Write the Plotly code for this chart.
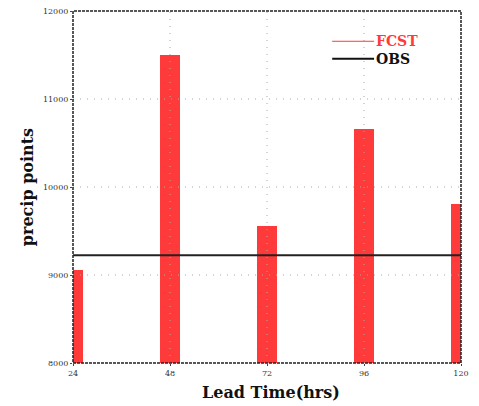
import plotly.graph_objects as go

# Lead times (hours) and counts of precip points
lead_hours = [24, 48, 72, 96, 120]
fcst_points = [9055, 11500, 9560, 10660, 9810]
obs_points = 9225

x_ticks = [24, 48, 72, 96, 120]
y_ticks = [8000, 9000, 10000, 11000, 12000]

FONT = "DejaVu Serif"
BAR_RED = "#ff3a3a"

fig = go.Figure()

fig.add_trace(go.Bar(
    x=lead_hours, y=fcst_points, width=5,
    marker=dict(color=BAR_RED, line=dict(width=0)),
    name="FCST", showlegend=False,
))

fig.add_trace(go.Scatter(
    x=[x_ticks[0], x_ticks[-1]], y=[obs_points, obs_points],
    mode="lines", line=dict(color="#222222", width=2),
    name="OBS", showlegend=False, cliponaxis=False,
))

shapes = []
# dotted grid drawn over the bars
grid_line = dict(color="#a8a8a8", width=1, dash="1px,6px")
for yv in y_ticks[1:-1]:
    shapes.append(dict(type="line", xref="paper", yref="y", x0=0, x1=1, y0=yv, y1=yv,
                       line=grid_line, layer="above"))
for xv in x_ticks[1:-1]:
    shapes.append(dict(type="line", xref="x", yref="paper", x0=xv, x1=xv, y0=0, y1=1,
                       line=grid_line, layer="above"))
# dashed frame
shapes.append(dict(type="rect", xref="paper", yref="paper", x0=0, x1=1, y0=0, y1=1,
                   line=dict(color="#222222", width=1.5, dash="3px,1px"), layer="above"))
# legend samples
shapes.append(dict(type="line", xref="paper", yref="paper", x0=0.668, x1=0.776, y0=0.914, y1=0.914,
                   line=dict(color="#ff3a3a", width=1)))
shapes.append(dict(type="line", xref="paper", yref="paper", x0=0.668, x1=0.776, y0=0.864, y1=0.864,
                   line=dict(color="#111111", width=2)))

annotations = [
    dict(text="<b>FCST</b>", xref="paper", yref="paper", x=0.776, y=0.914, xanchor="left",
         yanchor="middle", showarrow=False, font=dict(family=FONT, size=14, color="#ff3a3a")),
    dict(text="<b>OBS</b>", xref="paper", yref="paper", x=0.776, y=0.864, xanchor="left",
         yanchor="middle", showarrow=False, font=dict(family=FONT, size=14, color="#111111")),
    dict(text="<b>Lead Time(hrs)</b>", xref="paper", yref="paper", x=0.51, y=-0.083,
         xanchor="center", yanchor="middle", showarrow=False,
         font=dict(family=FONT, size=16, color="#111111")),
    dict(text="<b>precip points</b>", xref="paper", yref="paper", x=-0.118, y=0.5,
         xanchor="center", yanchor="middle", textangle=-90, showarrow=False,
         font=dict(family=FONT, size=16, color="#111111")),
]

fig.update_layout(
    width=479, height=406,
    margin=dict(l=73, r=18, t=7, b=43),
    paper_bgcolor="white", plot_bgcolor="white",
    shapes=shapes, annotations=annotations,
    bargap=0,
    xaxis=dict(range=[x_ticks[0], x_ticks[-1]], tickvals=x_ticks, ticktext=[str(v) for v in x_ticks],
               showgrid=False, zeroline=False, showline=False, ticks="outside", ticklen=2,
               tickcolor="#444", tickfont=dict(family=FONT, size=8, color="#333")),
    yaxis=dict(range=[y_ticks[0], y_ticks[-1]], tickvals=y_ticks, ticktext=[str(v) for v in y_ticks],
               showgrid=False, zeroline=False, showline=False, ticks="outside", ticklen=2,
               tickcolor="#444", tickfont=dict(family=FONT, size=8, color="#333")),
)

fig.write_html("out.html")
